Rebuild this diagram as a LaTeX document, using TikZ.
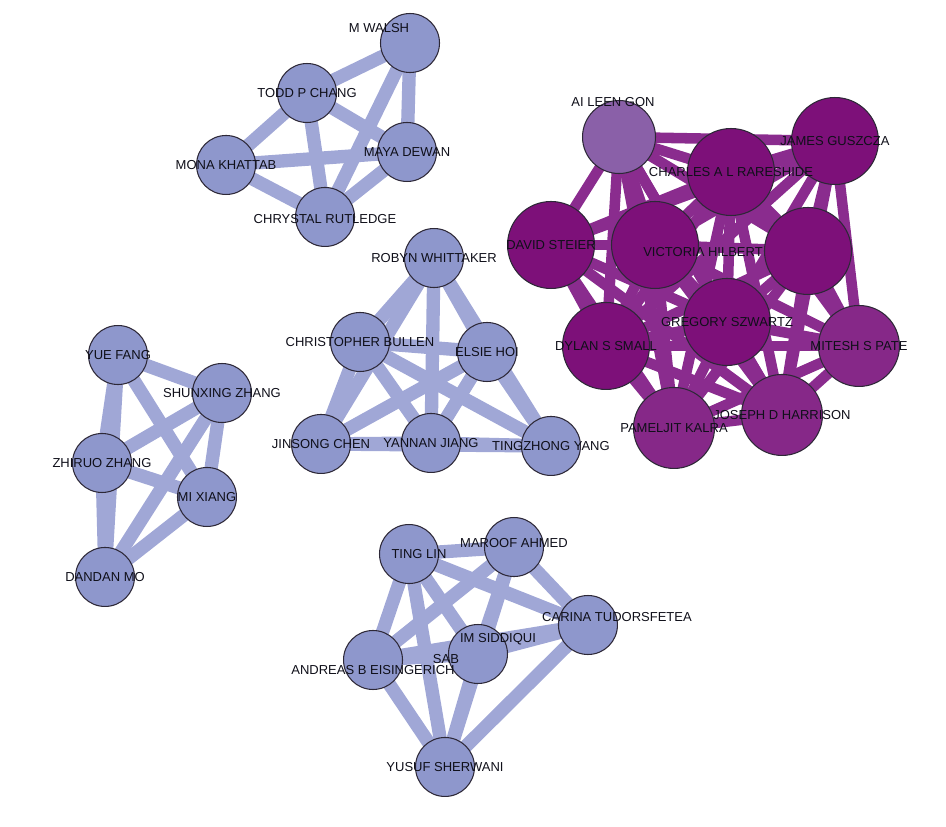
\documentclass[tikz,border=0pt]{standalone}
\usepackage{fontspec}
\setmainfont{Liberation Sans}
\usetikzlibrary{positioning,backgrounds}
\definecolor{nodeblue}{RGB}{142,151,204}
\definecolor{edgeblue}{RGB}{160,167,214}
\definecolor{nodedeep}{RGB}{125,16,121}
\definecolor{nodemid}{RGB}{134,40,136}
\definecolor{nodepale}{RGB}{138,96,168}
\definecolor{edgepurple}{RGB}{138,44,142}
\definecolor{ringgray}{RGB}{45,40,55}
\definecolor{inkdark}{RGB}{15,15,25}
\tikzset{blue node/.style={circle,fill=nodeblue,draw=ringgray,line width=0.6pt,minimum size=1.18cm,inner sep=0pt},
            purple node/.style={blue node,fill=nodedeep,minimum size=1.74cm},
            mid node/.style={purple node,fill=nodemid,minimum size=1.62cm},
            pale node/.style={purple node,fill=nodepale,minimum size=1.46cm},
            name tag/.style={font=\fontsize{7.4}{8}\selectfont,text=inkdark,inner sep=0pt},
            every label/.style={name tag},
            blue edge/.style={draw=edgeblue,line width=7.6pt},
            purple edge/.style={draw=edgepurple,line width=6pt},
            }

\begin{document}
\begin{tikzpicture}[x=0.02cm,y=-0.02cm,on grid]
    \useasboundingbox (0,0) rectangle (946,826);

    % top left group
    \node[blue node,label={[xshift=-0.62cm,yshift=0.3cm]center:M WALSH}] (1) at (410,43) {};
    \node[blue node,label={center:TODD P CHANG}] (2) [below left = 1.0cm and 2.06cm of 1] {};
    \node[blue node,label={center:MAYA DEWAN}] (3) [below left = 2.18cm and 0.06cm of 1] {};
    \node[blue node,label={center:MONA KHATTAB}] (4) [below left = 2.44cm and 3.68cm of 1] {};
    \node[blue node,label={[yshift=-0.04cm]center:CHRYSTAL RUTLEDGE}] (5) [below left = 3.48cm and 1.7cm of 1] {};

    % middle group
    \node[blue node,label={center:ROBYN WHITTAKER}] (6) at (434,258) {};
    \node[blue node,label={center:CHRISTOPHER BULLEN}] (7) [below left = 1.68cm and 1.48cm of 6] {};
    \node[blue node,label={center:ELSIE HOI}] (8) [below right = 1.88cm and 1.06cm of 6] {};
    \node[blue node,label={center:JINSONG CHEN}] (9) [below left = 3.72cm and 2.26cm of 6] {};
    \node[blue node,label={center:YANNAN JIANG}] (10) [below left = 3.7cm and 0.06cm of 6] {};
    \node[blue node,label={center:TINGZHONG YANG}] (11) [below right = 3.76cm and 2.34cm of 6] {};

    % left group
    \node[blue node,label={center:YUE FANG}] (12) at (118,355) {};
    \node[blue node,label={center:SHUNXING ZHANG}] (13) [below right = 0.76cm and 2.08cm of 12] {};
    \node[blue node,label={center:ZHIRUO ZHANG}] (14) [below left = 2.16cm and 0.32cm of 12] {};
    \node[blue node,label={center:MI XIANG}] (15) [below right = 2.84cm and 1.78cm of 12] {};
    \node[blue node,label={center:DANDAN MO}] (16) [below left = 4.44cm and 0.26cm of 12] {};

    % bottom group
    \node[blue node,label={[xshift=0.2cm]center:TING LIN}] (17) at (409,554) {};
    \node[blue node,label={[yshift=0.08cm]center:MAROOF AHMED}] (18) [above right = 0.14cm and 2.1cm of 17] {};
    \node[blue node,label={[xshift=0.58cm,yshift=0.16cm]center:CARINA TUDORSFETEA}] (19) [below right = 1.42cm and 3.58cm of 17] {};
    \node[blue node,label={[xshift=0.4cm,yshift=0.3cm]center:IM SIDDIQUI}] (20) [below right = 2.0cm and 1.38cm of 17] {};
    \node[blue node,label={[yshift=-0.2cm]center:ANDREAS B EISINGERICH}] (21) [below left = 2.12cm and 0.72cm of 17] {};
    \node[name tag] (22) [below right = 2.1cm and 0.74cm of 17] {SAB};
    \node[blue node,label={center:YUSUF SHERWANI}] (23) [below right = 4.26cm and 0.72cm of 17] {};

    % right group
    \node[pale node,label={[xshift=-0.12cm,yshift=0.7cm]center:AI LEEN GON}] (24) at (619,137) {};
    \node[purple node,label={center:JAMES GUSZCZA}] (26) [below right = 0.08cm and 4.32cm of 24] {};
    \node[purple node,label={center:CHARLES A L RARESHIDE}] (25) [below right = 0.7cm and 2.24cm of 24] {};
    \node[purple node,label={center:DAVID STEIER}] (27) [below left = 2.16cm and 1.36cm of 24] {};
    \node[purple node] (28) [below right = 2.28cm and 3.78cm of 24] {};
    \node[purple node,label={[xshift=0.96cm,yshift=-0.14cm]center:VICTORIA HILBERT}] (29) [below right = 2.16cm and 0.72cm of 24] {};
    \node[purple node,label={center:GREGORY SZWARTZ}] (30) [below right = 3.7cm and 2.16cm of 24] {};
    \node[purple node,label={center:DYLAN S SMALL}] (31) [below left = 4.18cm and 0.26cm of 24] {};
    \node[mid node,label={center:MITESH S PATE}] (32) [below right = 4.18cm and 4.8cm of 24] {};
    \node[mid node,label={center:PAMELJIT KALRA}] (33) [below right = 5.82cm and 1.1cm of 24] {};
    \node[mid node,label={center:JOSEPH D HARRISON}] (34) [below right = 5.56cm and 3.26cm of 24] {};

    \begin{scope}[on background layer]
    \path[blue edge]
    (1.center) edge node {} (2.center)
    (1.center) edge node {} (3.center)
    (1.center) edge node {} (5.center)
    (2.center) edge node {} (3.center)
    (2.center) edge node {} (4.center)
    (2.center) edge node {} (5.center)
    (3.center) edge node {} (4.center)
    (3.center) edge node {} (5.center)
    (4.center) edge node {} (5.center);

    \path[blue edge]
    (6.center) edge node {} (7.center)
    (6.center) edge node {} (8.center)
    (6.center) edge node {} (9.center)
    (6.center) edge node {} (10.center)
    (6.center) edge node {} (11.center)
    (7.center) edge node {} (8.center)
    (7.center) edge node {} (9.center)
    (7.center) edge node {} (10.center)
    (7.center) edge node {} (11.center)
    (8.center) edge node {} (9.center)
    (8.center) edge node {} (10.center)
    (8.center) edge node {} (11.center)
    (9.center) edge node {} (10.center)
    (9.center) edge node {} (11.center)
    (10.center) edge node {} (11.center);

    \path[blue edge]
    (12.center) edge node {} (13.center)
    (12.center) edge node {} (14.center)
    (12.center) edge node {} (15.center)
    (12.center) edge node {} (16.center)
    (13.center) edge node {} (14.center)
    (13.center) edge node {} (15.center)
    (13.center) edge node {} (16.center)
    (14.center) edge node {} (15.center)
    (14.center) edge node {} (16.center)
    (15.center) edge node {} (16.center);

    \path[blue edge]
    (17.center) edge node {} (18.center)
    (17.center) edge node {} (19.center)
    (17.center) edge node {} (20.center)
    (17.center) edge node {} (21.center)
    (17.center) edge node {} (23.center)
    (18.center) edge node {} (19.center)
    (18.center) edge node {} (20.center)
    (18.center) edge node {} (21.center)
    (18.center) edge node {} (23.center)
    (19.center) edge node {} (20.center)
    (19.center) edge node {} (21.center)
    (19.center) edge node {} (23.center)
    (20.center) edge node {} (21.center)
    (20.center) edge node {} (23.center)
    (21.center) edge node {} (23.center);

    \path[purple edge]
    (24.center) edge node {} (25.center)
    (24.center) edge node {} (26.center)
    (24.center) edge node {} (27.center)
    (24.center) edge node {} (28.center)
    (24.center) edge node {} (29.center)
    (24.center) edge node {} (30.center)
    (24.center) edge node {} (31.center)
    (24.center) edge node {} (33.center)
    (24.center) edge node {} (34.center)
    (25.center) edge node {} (26.center)
    (25.center) edge node {} (27.center)
    (25.center) edge node {} (28.center)
    (25.center) edge node {} (29.center)
    (25.center) edge node {} (30.center)
    (25.center) edge node {} (31.center)
    (25.center) edge node {} (32.center)
    (25.center) edge node {} (33.center)
    (25.center) edge node {} (34.center)
    (26.center) edge node {} (27.center)
    (26.center) edge node {} (28.center)
    (26.center) edge node {} (29.center)
    (26.center) edge node {} (30.center)
    (26.center) edge node {} (31.center)
    (26.center) edge node {} (32.center)
    (26.center) edge node {} (34.center)
    (27.center) edge node {} (29.center)
    (27.center) edge node {} (30.center)
    (27.center) edge node {} (31.center)
    (27.center) edge node {} (33.center)
    (27.center) edge node {} (34.center)
    (28.center) edge node {} (29.center)
    (28.center) edge node {} (30.center)
    (28.center) edge node {} (31.center)
    (28.center) edge node {} (32.center)
    (28.center) edge node {} (33.center)
    (28.center) edge node {} (34.center)
    (29.center) edge node {} (30.center)
    (29.center) edge node {} (31.center)
    (29.center) edge node {} (32.center)
    (29.center) edge node {} (33.center)
    (29.center) edge node {} (34.center)
    (30.center) edge node {} (31.center)
    (30.center) edge node {} (32.center)
    (30.center) edge node {} (33.center)
    (30.center) edge node {} (34.center)
    (31.center) edge node {} (32.center)
    (31.center) edge node {} (33.center)
    (31.center) edge node {} (34.center)
    (32.center) edge node {} (33.center)
    (32.center) edge node {} (34.center)
    (33.center) edge node {} (34.center);
    \end{scope}
\end{tikzpicture}
\end{document}
